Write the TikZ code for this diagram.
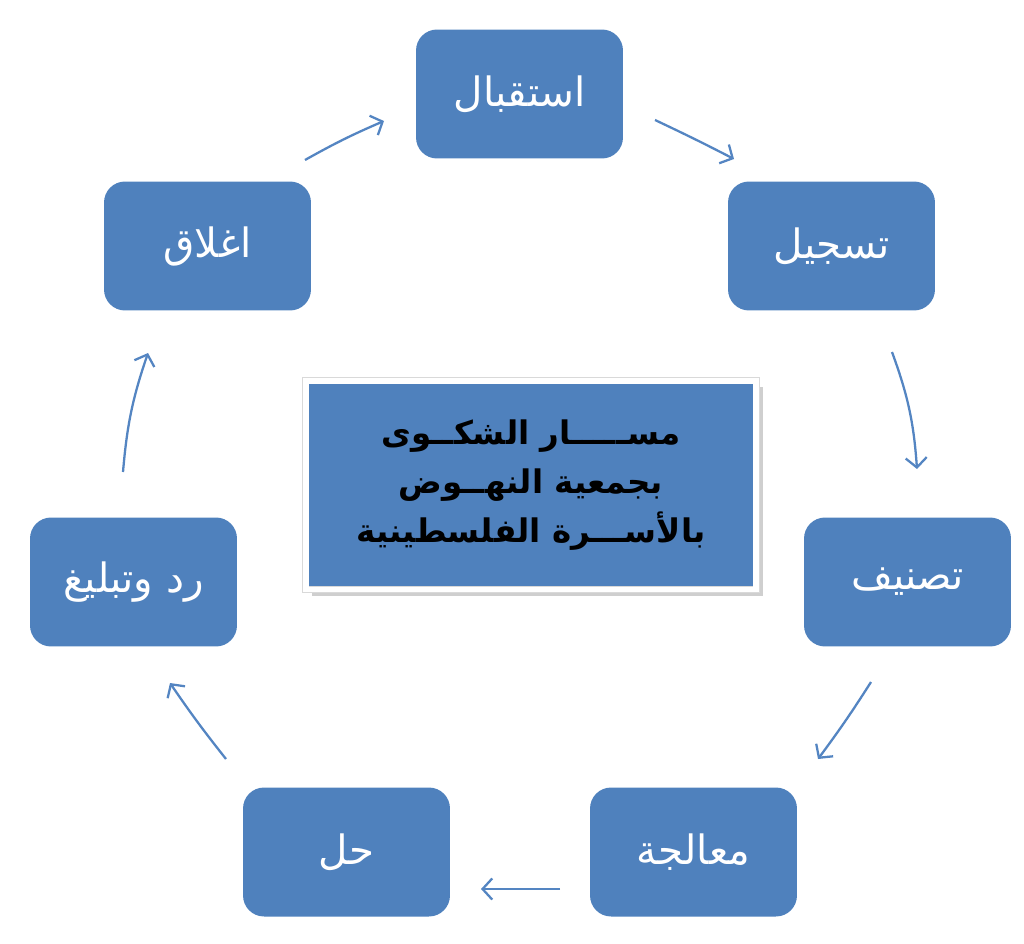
\documentclass[tikz,border=0pt]{standalone}
\usepackage{fontspec}
\newfontfamily\arabicfont[Script=Arabic]{DejaVu Sans}
\TeXXeTstate=1
\usetikzlibrary{arrows.meta,shadows}

\definecolor{boxblue}{RGB}{79,129,189}
\definecolor{arrowblue}{RGB}{84,133,194}

\tikzset{
  stage/.style={rectangle, rounded corners=0.42cm, fill=boxblue, text=white,
    minimum width=4.14cm, minimum height=2.58cm, inner sep=0pt,
    font=\arabicfont\fontsize{23}{28}\selectfont},
  title/.style={rectangle, fill=boxblue, draw=gray!30, double=white,
    double distance=3.4pt, line width=0.35pt, minimum width=9.02cm,
    minimum height=4.18cm, align=center,
    font=\arabicfont\bfseries\fontsize{18.5}{28}\selectfont,
    drop shadow={shadow xshift=3.5pt, shadow yshift=-3.5pt, fill=gray!75}},
  flow/.style={-{Straight Barb[length=5.5pt,width=12pt]}, arrowblue, line width=1.3pt}
}

\begin{document}
\begin{tikzpicture}[x=0.02cm, y=-0.02cm]
\useasboundingbox (0,0) rectangle (1024,943);

% stages of the complaint path
\node[stage] (recv) at (519.5,94) {\beginR استقبال\endR};
\node[stage] (reg) at (831.5,246) {\beginR تسجيل\endR};
\node[stage] (sort) at (907.5,582) {\beginR تصنيف\endR};
\node[stage] (treat) at (693.5,852) {\beginR معالجة\endR};
\node[stage] (solve) at (346.5,852) {\beginR حل\endR};
\node[stage] (reply) at (133.5,582) {\beginR رد وتبليغ\endR};
\node[stage] (close) at (207.5,246) {\beginR اغلاق\endR};

% centre box
\node[title] (head) at (531,485)
  {\beginR مســـــار الشكــوى\endR\\
   \beginR بجمعية النهــوض\endR\\
   \beginR بالأســـرة الفلسطينية\endR};

% arrow ends
\coordinate (c1) at (305,160);
\coordinate (c2) at (384,121);
\coordinate (c3) at (655,120);
\coordinate (c4) at (734,159);
\coordinate (c5) at (892,352);
\coordinate (c6) at (917,469);
\coordinate (c7) at (871,682);
\coordinate (c8) at (818,759);
\coordinate (c9) at (560,889);
\coordinate (c10) at (481,889);
\coordinate (c11) at (226,759);
\coordinate (c12) at (170,683);
\coordinate (c13) at (123,472);
\coordinate (c14) at (148,353);

\draw[flow] (c1) to[bend left=3] (c2);
\draw[flow] (c3) to[bend left=1] (c4);
\draw[flow] (c5) to[bend left=8] (c6);
\draw[flow] (c7) to[bend left=2] (c8);
\draw[flow] (c9) -- (c10);
\draw[flow] (c11) to[bend left=2] (c12);
\draw[flow] (c13) to[bend left=7] (c14);

\end{tikzpicture}
\end{document}
